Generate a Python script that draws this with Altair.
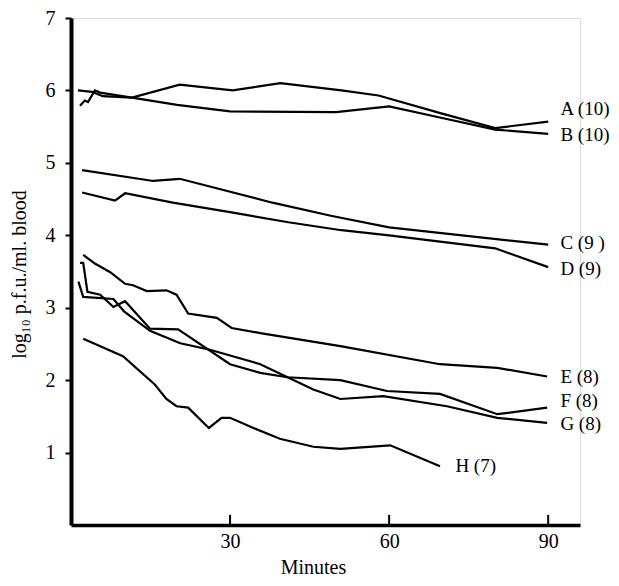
import altair as alt
import pandas as pd

FONT = "Liberation Serif"

# ---- data ----
a_min = [1.3, 4, 6, 11.5, 20.5, 30.5, 39.5, 51, 58, 70, 80, 90]
a_val = [6.0, 5.98, 5.92, 5.9, 6.08, 6.0, 6.1, 6.0, 5.93, 5.68, 5.48, 5.57]

b_min = [1.7, 2.6, 3.2, 4.5, 5.5, 11.5, 20, 30, 50, 60, 70, 80, 90]
b_val = [5.79, 5.86, 5.84, 6.0, 5.97, 5.9, 5.8, 5.71, 5.70, 5.78, 5.62, 5.46, 5.40]

c_min = [2.1, 15.5, 20.5, 38, 49, 60, 90]
c_val = [4.9, 4.75, 4.78, 4.45, 4.27, 4.11, 3.87]

d_min = [2.1, 8.3, 10.2, 19.2, 30, 41, 51, 60, 80, 90]
d_val = [4.59, 4.48, 4.58, 4.45, 4.32, 4.18, 4.07, 4.0, 3.82, 3.56]

e_min = [2.3, 4.5, 7.4, 10.2, 11.7, 14.3, 18, 19.9, 22.1, 27.5, 30.3, 35.7, 50.8, 69.6, 80.4, 89.8]
e_val = [3.73, 3.61, 3.49, 3.33, 3.31, 3.23, 3.24, 3.18, 2.92, 2.86, 2.72, 2.65, 2.47, 2.22, 2.17, 2.05]

f_min = [1.7, 2.3, 3.1, 5.5, 8, 10.2, 14.9, 20.2, 30, 35.7, 40.8, 50.8, 59.6, 69.6, 80.4, 89.8]
f_val = [3.62, 3.62, 3.22, 3.18, 3.01, 3.09, 2.71, 2.70, 2.22, 2.10, 2.04, 2.0, 1.85, 1.81, 1.53, 1.62]

g_min = [1.4, 2.3, 8, 10, 14.9, 20.6, 26.2, 35.7, 45.7, 50.8, 58.9, 70.9, 80.4, 89.8]
g_val = [3.36, 3.15, 3.12, 2.95, 2.68, 2.51, 2.42, 2.22, 1.87, 1.74, 1.78, 1.64, 1.48, 1.41]

h_min = [2.3, 9.8, 15.8, 18, 19.9, 22.1, 26, 28.4, 30, 34.4, 39.4, 45.7, 50.8, 60.2, 69.6]
h_val = [2.57, 2.33, 1.94, 1.74, 1.64, 1.62, 1.34, 1.48, 1.48, 1.34, 1.19, 1.08, 1.05, 1.10, 0.81]

label_text = ["A (10)", "B (10)", "C (9 )", "D (9)", "E (8)", "F (8)", "G (8)", "H (7)"]
label_x = [92.3, 92.3, 92.3, 92.3, 92.3, 92.3, 92.3, 72.5]
label_y = [5.75, 5.38, 3.90, 3.53, 2.05, 1.71, 1.40, 0.82]

x_ticks = [30, 60, 90]
y_ticks = [1, 2, 3, 4, 5, 6, 7]

series = {
    "A": (a_min, a_val), "B": (b_min, b_val), "C": (c_min, c_val), "D": (d_min, d_val),
    "E": (e_min, e_val), "F": (f_min, f_val), "G": (g_min, g_val), "H": (h_min, h_val),
}
rows = []
for name, (ms, vs) in series.items():
    for i, (m, v) in enumerate(zip(ms, vs)):
        rows.append({"series": name, "minute": m, "value": v, "order": i})
df = pd.DataFrame(rows)
labels = pd.DataFrame({"text": label_text, "minute": label_x, "value": label_y})
ticks = pd.DataFrame({"minute": x_ticks, "y0": [0] * 3, "y1": [0.14] * 3})

xscale = alt.Scale(domain=[0, 96], nice=False, zero=True)
yscale = alt.Scale(domain=[0, 7], nice=False)

lines = alt.Chart(df).mark_line(color="black", strokeWidth=2.2).encode(
    x=alt.X("minute:Q", scale=xscale,
            axis=alt.Axis(title="Minutes", values=x_ticks, grid=False, tickSize=0,
                          labelPadding=6, labelFont=FONT, labelFontSize=20, labelColor="black",
                          format="d",
                          titleFont=FONT, titleFontSize=20, titleFontWeight="normal",
                          titleColor="black", titleX=242, titleY=48, titleBaseline="alphabetic",
                          titleAlign="center",
                          domainColor="black", domainWidth=3.5)),
    y=alt.Y("value:Q", scale=yscale,
            axis=alt.Axis(title="log₁₀ p.f.u./ml. blood", values=y_ticks, grid=False,
                          format="d",
                          tickSize=6, tickWidth=2, tickColor="black", labelPadding=10,
                          labelFont=FONT, labelFontSize=20, labelColor="black",
                          titleFont=FONT, titleFontSize=20, titleFontWeight="normal",
                          titleColor="black", titleX=-46, titleY=256, titleAlign="center",
                          titleBaseline="alphabetic", titleAngle=-90,
                          domainColor="black", domainWidth=4)),
    detail="series:N",
    order="order:Q",
)

tick_marks = alt.Chart(ticks).mark_rule(color="black", strokeWidth=2).encode(
    x=alt.X("minute:Q", scale=xscale),
    y=alt.Y("y0:Q", scale=yscale),
    y2="y1:Q",
)

texts = alt.Chart(labels).mark_text(align="left", baseline="middle", font=FONT,
                                     fontSize=19, color="black").encode(
    x=alt.X("minute:Q", scale=xscale),
    y=alt.Y("value:Q", scale=yscale),
    text="text:N",
)

chart = alt.layer(lines, tick_marks, texts).properties(
    width=509, height=507,
    autosize=alt.AutoSizeParams(type="none"),
    padding={"left": 63, "top": 10, "right": 31, "bottom": 54},
).configure_view(stroke=None).configure(background="white")

chart.save("out.html", embed_options={"renderer": "svg", "actions": False})
